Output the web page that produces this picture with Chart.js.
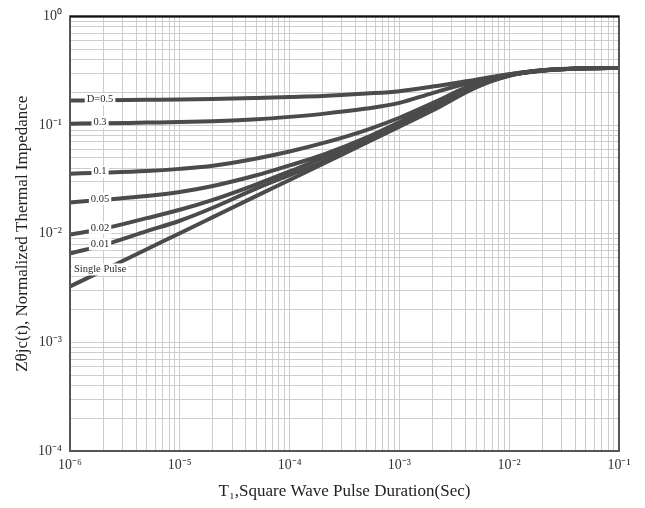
<!DOCTYPE html>
<html>
<head>
<meta charset="utf-8">
<title>Normalized Thermal Impedance</title>
<script src="https://cdn.jsdelivr.net/npm/chart.js@4.4.1/dist/chart.umd.min.js"></script>
<style>
  html, body { margin: 0; padding: 0; background: #fff; }
  #wrap { width: 645px; height: 508px; }
</style>
</head>
<body>
<div id="wrap"><canvas id="zth"></canvas></div>
<script>
// pulse duration (sec)
const pulseTimes = [1e-6, 2e-6, 5e-6, 1e-5, 2e-5, 5e-5, 1e-4, 2e-4, 5e-4, 1e-3, 2e-3, 5e-3, 1e-2, 2e-2, 5e-2, 1e-1];

// Zθjc(t) per duty cycle
const duty050 = [0.1685, 0.169, 0.1705, 0.1714, 0.1735, 0.1775, 0.181, 0.185, 0.195, 0.205, 0.226, 0.262, 0.294, 0.320, 0.333, 0.335];
const duty030 = [0.1028, 0.1037, 0.1054, 0.1066, 0.1086, 0.1130, 0.1189, 0.1267, 0.1417, 0.160, 0.197, 0.254, 0.292, 0.319, 0.333, 0.335];
const duty010 = [0.0357, 0.0364, 0.0377, 0.0395, 0.0422, 0.0493, 0.0571, 0.0681, 0.0900, 0.1167, 0.159, 0.243, 0.289, 0.318, 0.333, 0.335];
const duty005 = [0.0194, 0.0205, 0.0222, 0.0242, 0.0275, 0.0345, 0.0425, 0.0530, 0.0765, 0.1065, 0.1525, 0.238, 0.288, 0.318, 0.333, 0.335];
const duty002 = [0.0098, 0.0111, 0.0139, 0.0166, 0.0205, 0.0285, 0.0374, 0.0498, 0.0713, 0.1043, 0.148, 0.232, 0.287, 0.317, 0.333, 0.335];
const duty001 = [0.00659, 0.00784, 0.01054, 0.01316, 0.01733, 0.0261, 0.0346, 0.0458, 0.0698, 0.101, 0.143, 0.228, 0.286, 0.317, 0.333, 0.335];
const singlePulse = [0.00327, 0.00459, 0.0072, 0.0101, 0.0142, 0.0223, 0.0312, 0.0438, 0.0688, 0.0965, 0.136, 0.222, 0.284, 0.316, 0.333, 0.335];

const curveLabels = ['D=0.5', '0.3', '0.1', '0.05', '0.02', '0.01', 'Single Pulse'];
const curveValues = [duty050, duty030, duty010, duty005, duty002, duty001, singlePulse];

// axis decades and tick text
const xDecades = [-6, -5, -4, -3, -2, -1];
const xTickLabels = ['10⁻⁶', '10⁻⁵', '10⁻⁴', '10⁻³', '10⁻²', '10⁻¹'];
const yDecades = [-4, -3, -2, -1, 0];
const yTickLabels = ['10⁻⁴', '10⁻³', '10⁻²', '10⁻¹', '10⁰'];
const mantissas = [1, 2, 3, 4, 5, 6, 7, 8, 9];

const LINE = '#4b4b4b';
const SERIF = "'Liberation Serif', 'Times New Roman', serif";

function logTicks(decades) {
  const out = [];
  decades.forEach((e, i) => {
    const last = i === decades.length - 1;
    (last ? [1] : mantissas).forEach(m => {
      out.push({ value: Number((m * Math.pow(10, e)).toPrecision(3)), major: m === 1 });
    });
  });
  return out;
}

function decadeLabel(value, decades, labels) {
  const e = Math.round(Math.log10(value));
  if (Math.abs(Math.log10(value) - e) > 1e-6) return '';
  const i = decades.indexOf(e);
  return i < 0 ? '' : labels[i];
}

// white-backed text sitting on each curve near the left edge
const curveTags = {
  id: 'curveTags',
  afterDatasetsDraw(chart) {
    const ctx = chart.ctx;
    const xs = chart.scales.x, ys = chart.scales.y;
    ctx.save();
    ctx.font = '10.5px ' + SERIF;
    ctx.textAlign = 'center';
    ctx.textBaseline = 'middle';
    chart.data.datasets.forEach(ds => {
      const px = xs.getPixelForValue(pulseTimes[1]) - 3;
      const py = ys.getPixelForValue(ds.data[1].y) - 1;
      const w = ctx.measureText(ds.label).width + 4;
      ctx.fillStyle = '#fff';
      ctx.fillRect(px - w / 2, py - 6, w, 12);
      ctx.fillStyle = '#2a2a2a';
      ctx.fillText(ds.label, px, py);
    });
    ctx.restore();
  }
};

const frame = {
  id: 'frame',
  afterDraw(chart) {
    const { left, right, top, bottom } = chart.chartArea;
    const ctx = chart.ctx;
    ctx.save();
    ctx.strokeStyle = '#555';
    ctx.lineWidth = 2;
    ctx.strokeRect(left, top, right - left, bottom - top);
    ctx.strokeStyle = '#111';
    ctx.beginPath();
    ctx.moveTo(left, top);
    ctx.lineTo(right, top);
    ctx.stroke();
    ctx.restore();
  }
};

new Chart(document.getElementById('zth'), {
  type: 'line',
  data: {
    datasets: curveLabels.map((name, i) => ({
      label: name,
      data: pulseTimes.map((t, k) => ({ x: t, y: curveValues[i][k] })),
      borderColor: LINE,
      borderWidth: 4,
      pointRadius: 0,
      fill: false,
      cubicInterpolationMode: 'monotone'
    }))
  },
  options: {
    responsive: true,
    maintainAspectRatio: false,
    animation: false,
    layout: { padding: { left: 0, right: 26, top: 15, bottom: 0 } },
    plugins: { legend: { display: false }, tooltip: { enabled: false } },
    scales: {
      x: {
        type: 'logarithmic',
        min: 1e-6,
        max: 1e-1,
        afterBuildTicks: s => { s.ticks = logTicks(xDecades); },
        afterFit: s => { s.height = 57; },
        border: { display: false },
        grid: { color: '#cdcdcd', lineWidth: 1, drawTicks: false },
        ticks: {
          autoSkip: false,
          maxRotation: 0,
          padding: 6,
          color: '#333',
          font: { family: SERIF, size: 14 },
          callback: v => decadeLabel(v, xDecades, xTickLabels)
        },
        title: {
          display: true,
          text: 'T₁,Square Wave Pulse Duration(Sec)',
          color: '#222',
          font: { family: SERIF, size: 17 },
          padding: { top: 0, bottom: 6 }
        }
      },
      y: {
        type: 'logarithmic',
        min: 1e-4,
        max: 1,
        afterBuildTicks: s => { s.ticks = logTicks(yDecades); },
        afterFit: s => { s.width = 70; },
        border: { display: false },
        grid: { color: '#cdcdcd', lineWidth: 1, drawTicks: false },
        ticks: {
          autoSkip: false,
          padding: 8,
          color: '#333',
          font: { family: SERIF, size: 14 },
          callback: v => decadeLabel(v, yDecades, yTickLabels)
        },
        title: {
          display: true,
          text: 'Zθjc(t), Normalized Thermal Impedance',
          color: '#222',
          font: { family: SERIF, size: 17 },
          padding: { top: 12, bottom: 0 }
        }
      }
    }
  },
  plugins: [curveTags, frame]
});
</script>
</body>
</html>
